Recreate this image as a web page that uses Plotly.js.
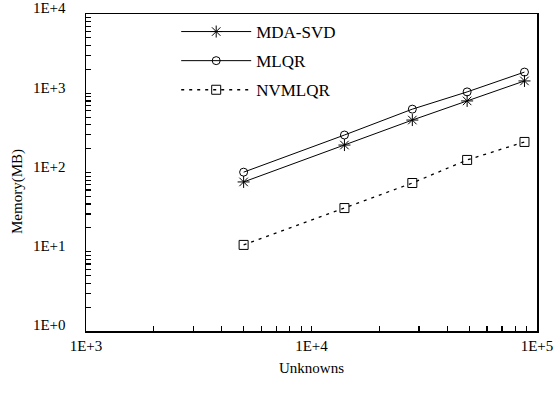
<!DOCTYPE html>
<html>
<head>
<meta charset="utf-8">
<script src="https://cdn.plot.ly/plotly-3.0.1.min.js"></script>
<style>html,body{margin:0;padding:0;background:#fff;}#chart{width:560px;height:394px;}</style>
</head>
<body>
<div id="chart"></div>
<script>
const unknowns = [5000, 14000, 28000, 49000, 88000];
const mdaSvd = [76, 222, 459, 800, 1430];
const mlqr = [101, 297, 630, 1040, 1850];
const nvmlqr = [12.2, 35.6, 73.7, 144, 243];
const seriesNames = ['MDA-SVD', 'MLQR', 'NVMLQR'];
const xTickVals = [1e3, 1e4, 1e5];
const xTickText = ['1E+3', '1E+4', '1E+5'];
const yTickVals = [1, 10, 100, 1000, 10000];
const yTickText = ['1E+0', '1E+1', '1E+2', '1E+3', '1E+4'];

// decade labels plus unlabeled minor ticks at 2..9 of each decade
function withMinor(decades, labels) {
  const vals = decades.slice(), text = labels.slice();
  for (let i = 0; i < decades.length - 1; i++) {
    for (let k = 2; k <= 9; k++) { vals.push(decades[i] * k); text.push(''); }
  }
  return {vals, text};
}
const xt = withMinor(xTickVals, xTickText);
const yt = withMinor(yTickVals, yTickText);

const font = 'Liberation Serif, Times New Roman, serif';
const traces = [
  {x: unknowns, y: mdaSvd, name: seriesNames[0], mode: 'lines+markers', legendgroup: 'a',
   line: {color: '#000', width: 1}, marker: {symbol: 'asterisk-open', size: 10, color: '#000', line: {color: '#000', width: 1}}},
  {x: unknowns, y: mlqr, name: seriesNames[1], mode: 'lines+markers', legendgroup: 'b',
   line: {color: '#000', width: 1}, marker: {symbol: 'circle-open', size: 8, color: '#000', line: {color: '#000', width: 1}}},
  {x: unknowns, y: nvmlqr, name: seriesNames[2], mode: 'lines+markers', legendgroup: 'c',
   line: {color: '#000', width: 1.3, dash: '3px,5px'}, marker: {symbol: 'square-open', size: 9, color: '#000', line: {color: '#000', width: 1}}}
];

const layout = {
  width: 560, height: 394,
  margin: {l: 86, r: 23, t: 14, b: 63},
  paper_bgcolor: '#fff', plot_bgcolor: '#fff',
  font: {family: font, size: 15, color: '#000'},
  showlegend: true,
  legend: {x: 0.2, y: 1.0, xanchor: 'left', yanchor: 'top', bgcolor: 'rgba(0,0,0,0)',
           font: {family: font, size: 17, color: '#000'}, traceorder: 'grouped', tracegroupgap: 4, itemwidth: 70},
  xaxis: {type: 'log', range: [3, 5], tickmode: 'array', tickvals: xt.vals, ticktext: xt.text,
          showline: true, linecolor: '#000', linewidth: 1.5, mirror: true, showgrid: false, zeroline: false,
          ticks: 'inside', ticklen: 5, tickwidth: 1.2, tickcolor: '#000', layer: 'above traces',
          ticklabeloverflow: 'allow',
          title: {text: 'Unknowns', font: {family: font, size: 15}, standoff: 10}},
  yaxis: {type: 'log', range: [0, 4], tickmode: 'array', tickvals: yt.vals, ticktext: yt.text,
          showline: true, linecolor: '#000', linewidth: 1.5, mirror: true, showgrid: false, zeroline: false,
          ticks: 'inside', ticklen: 5, tickwidth: 1.2, tickcolor: '#000', layer: 'above traces',
          ticklabelshift: -6, ticklabelstandoff: 16, ticklabeloverflow: 'allow'},
  annotations: [{text: 'Memory(MB)', textangle: -90, xref: 'paper', yref: 'paper', x: -0.152, y: 0.44,
                 xanchor: 'center', yanchor: 'middle', showarrow: false, font: {family: font, size: 15, color: '#000'}}]
};
Plotly.newPlot('chart', traces, layout, {displayModeBar: false, staticPlot: true});
</script>
</body>
</html>
